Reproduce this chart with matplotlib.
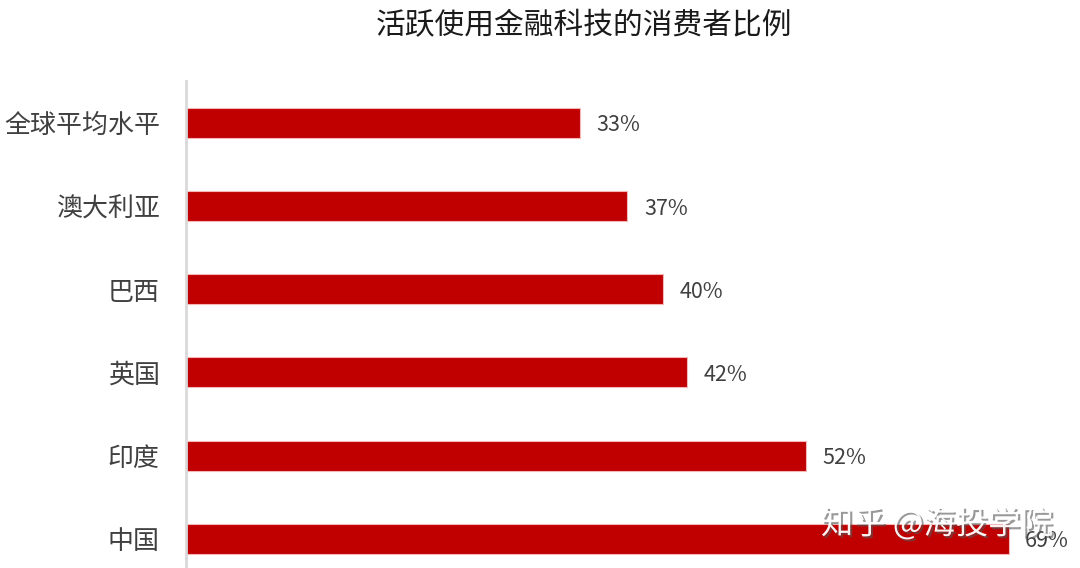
import matplotlib.pyplot as plt
import matplotlib.patheffects as pe

plt.rcParams['font.family'] = ['Noto Sans CJK SC', 'DejaVu Sans']

categories = ['全球平均水平', '澳大利亚', '巴西', '英国', '印度', '中国']
values = [33, 37, 40, 42, 52, 69]
title = '活跃使用金融科技的消费者比例'

fig = plt.figure(figsize=(10.8, 5.68), dpi=100)
ax = fig.add_axes([0.1725, -0.022, 0.8275, 0.879])

ypos = list(range(len(categories)))
ax.barh(ypos, values, height=0.36, color='#C00000', edgecolor='#F4B6B6', linewidth=0.8)
for y, v in zip(ypos, values):
    ax.text(v + 1.4, y + 0.03, f'{v}%', va='center', ha='left', fontsize=15.5, color='#404040')

ax.set_yticks(ypos)
ax.set_yticklabels(categories, fontsize=18.7, color='#404040')
ax.set_ylim(len(categories) - 0.5, -0.5)
ax.set_xlim(0, 75)
ax.set_xticks([])
ax.tick_params(axis='y', length=0, pad=19)
for s in ['top', 'right', 'bottom']:
    ax.spines[s].set_visible(False)
ax.spines['left'].set_color('#D9D9D9')
ax.spines['left'].set_linewidth(2)

fig.text(0.5405, 0.955, title, ha='center', va='center', fontsize=21.4, color='#1a1a1a')

# watermark
fig.text(0.8675, 0.077, '知乎 @海投学院', ha='center', va='center', fontsize=23.3,
         color='white', alpha=0.95,
         path_effects=[pe.withSimplePatchShadow(offset=(1.5, -1.5), shadow_rgbFace='#555555', alpha=0.6)])

fig.savefig('out.png', dpi=100)
